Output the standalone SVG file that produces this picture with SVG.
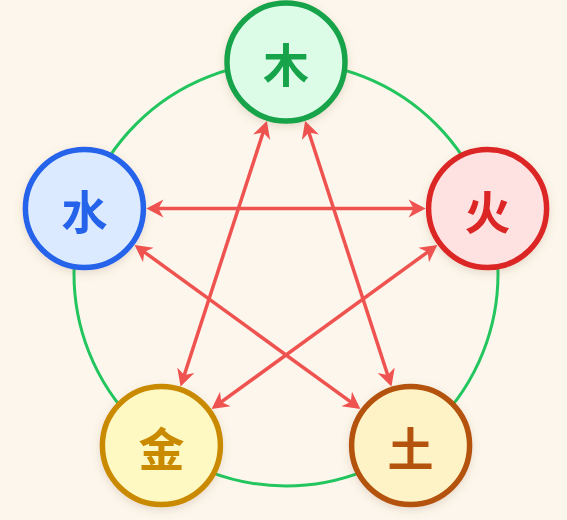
<svg xmlns="http://www.w3.org/2000/svg" width="567" height="520" viewBox="0 0 567 520">
  <style>
    .node circle { stroke-width: 5.5; }
    .node text { font-family: "Noto Sans CJK SC", "Noto Sans", sans-serif; font-weight: 700; text-anchor: middle; dominant-baseline: central; }
    .conn line { stroke: #ef5350; stroke-width: 3.5; marker-start: url(#arr); marker-end: url(#arr); }
  </style>
  <defs>
    <filter id="shadow" x="-30%" y="-30%" width="160%" height="160%">
      <feDropShadow dx="0" dy="3" stdDeviation="4" flood-color="#7a5a3a" flood-opacity="0.18"/>
    </filter>
    <marker id="arr" viewBox="-20 -10 25 20" refX="0" refY="0" markerWidth="25" markerHeight="20" markerUnits="userSpaceOnUse" orient="auto-start-reverse">
      <path d="M4,0 L-13,-9 L-8,0 L-13,9 Z" fill="#ef5350"/>
    </marker>
  </defs>
  <rect width="567" height="520" fill="#fdf6ec"/>
  <circle cx="286" cy="274" r="212" fill="none" stroke="#22c55e" stroke-width="3"/>
  <g id="connectors" class="conn">
    <line x1="265.6" y1="124.8" x2="181.8" y2="382.7"/>
    <line x1="306.4" y1="124.8" x2="390.2" y2="382.7"/>
    <line x1="150.4" y1="208.5" x2="421.6" y2="208.5"/>
    <line x1="137.8" y1="247.3" x2="357.2" y2="406.7"/>
    <line x1="434.2" y1="247.3" x2="214.8" y2="406.7"/>
  </g>
  <g id="wood" class="node" filter="url(#shadow)">
    <circle cx="286" cy="62" r="59" fill="#dcfce7" stroke="#16a34a"/>
    <text x="286" y="62" font-size="46" fill="#16a34a">木</text>
  </g>
  <g id="water" class="node" filter="url(#shadow)">
    <circle cx="84.4" cy="208.5" r="59" fill="#dbeafe" stroke="#2563eb"/>
    <text x="84.4" y="208.5" font-size="46" fill="#2563eb">水</text>
  </g>
  <g id="fire" class="node" filter="url(#shadow)">
    <circle cx="487.6" cy="208.5" r="59" fill="#fee2e2" stroke="#dc2626"/>
    <text x="487.6" y="208.5" font-size="46" fill="#dc2626">火</text>
  </g>
  <g id="metal" class="node" filter="url(#shadow)">
    <circle cx="161.4" cy="445.5" r="59" fill="#fef9c3" stroke="#ca8a04"/>
    <text x="161.4" y="445.5" font-size="46" fill="#ca8a04">金</text>
  </g>
  <g id="earth" class="node" filter="url(#shadow)">
    <circle cx="410.6" cy="445.5" r="59" fill="#fef3c7" stroke="#b45309"/>
    <text x="410.6" y="445.5" font-size="46" fill="#b45309">土</text>
  </g>
</svg>
